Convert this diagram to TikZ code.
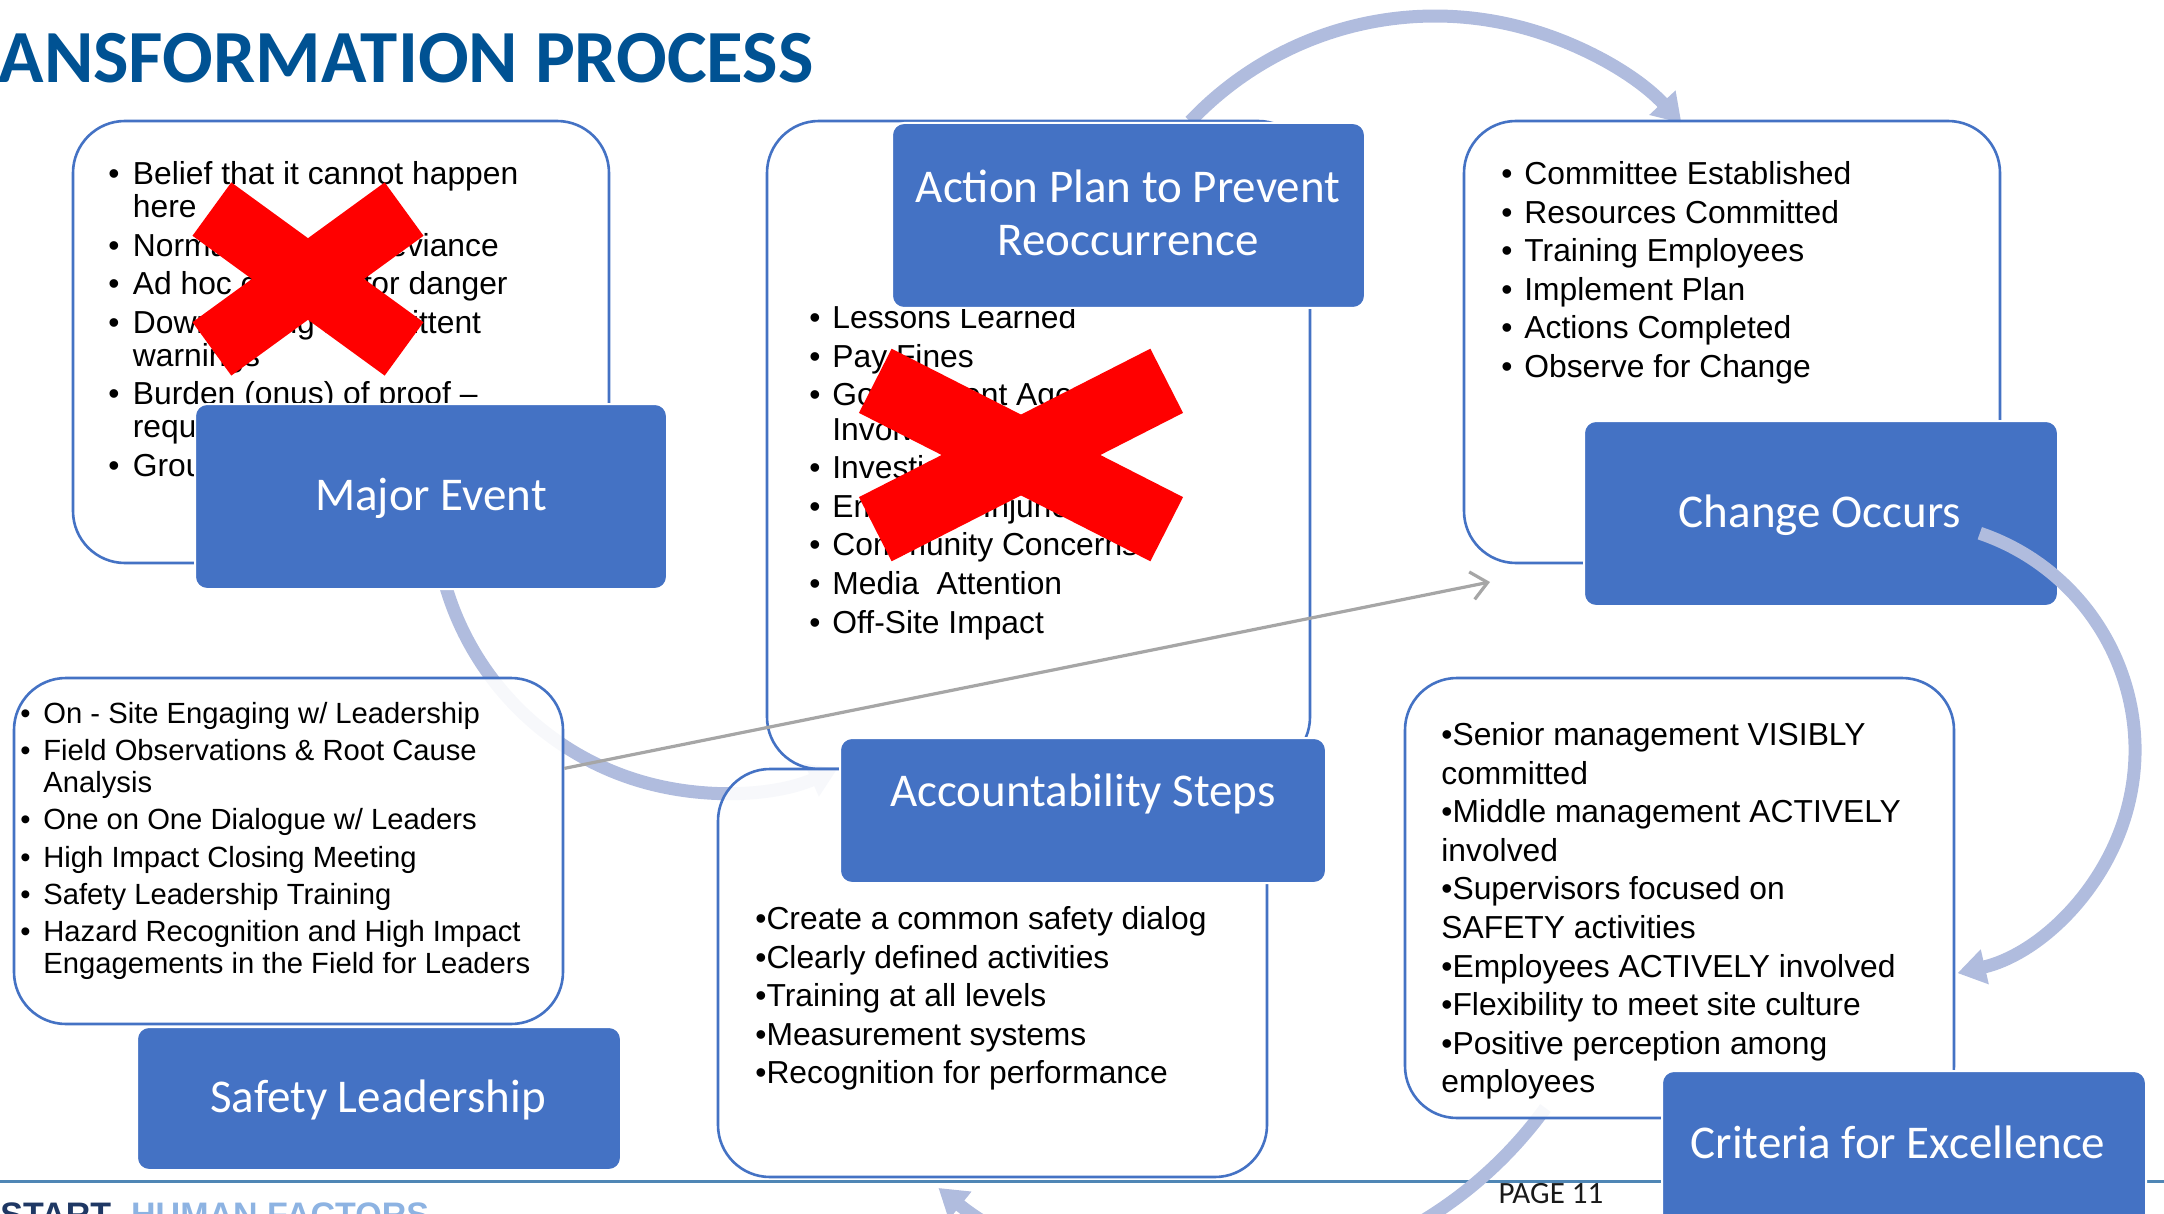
\documentclass[tikz,border=0pt]{standalone}
\usepackage{fontspec}
\setmainfont{Liberation Sans}
\newfontfamily\calfont{Carlito}
\usetikzlibrary{arrows.meta,calc}

\definecolor{accent}{RGB}{68,114,196}
\definecolor{arcblue}{RGB}{176,188,222}
\definecolor{titleblue}{RGB}{0,82,147}
\definecolor{footblue}{RGB}{79,134,181}
\definecolor{logonavy}{RGB}{31,56,100}
\definecolor{logolight}{RGB}{141,179,226}
\definecolor{pointergray}{RGB}{166,166,166}

% bullet set in a box of the given width
\newcommand\bitem[1]{\makebox[#1][l]{•}}

\begin{document}
\begin{tikzpicture}[x=0.5pt,y=-0.5pt,
  outline/.style={draw=accent, line width=1.3pt, fill=white, fill opacity=0.9,
    rounded corners=26pt, inner sep=0pt},
  head/.style={fill=accent, draw=white, line width=1pt, rounded corners=6pt, inner sep=0pt},
  headtext/.style={text=white, font=\calfont\fontsize{23.5pt}{28pt}\selectfont,
    anchor=base, inner sep=0pt},
  body/.style={anchor=north west, align=left, inner sep=0pt, text=black},
  cyclearc/.style={draw=arcblue, line width=6.5pt, -{Triangle[length=14pt,width=17pt]}},
  cross/.style={draw=red, line width=#1, line cap=butt},
  pointer/.style={draw=pointergray, line width=1.6pt, -{Straight Barb[length=8pt,width=14pt]}},
  footrule/.style={draw=footblue, line width=1.5pt}
]
\useasboundingbox (0,0) rectangle (2164,1214);
\clip (0,0) rectangle (2164,1214);

% footer rule, logo and title
\draw[footrule] (0,1181) -- (2164,1181);
\node[anchor=base west, inner sep=0pt, font=\bfseries\fontsize{17pt}{20pt}\selectfont] (logo) at (0,1226)
  {\textcolor{logonavy}{START}\hspace{10pt}\textcolor{logolight}{HUMAN FACTORS}};
\node[anchor=base east, inner sep=0pt, text=titleblue,
  font=\calfont\bfseries\fontsize{37.5pt}{40pt}\selectfont] (title) at (814,83) {ANSFORMATION PROCESS};

% cycle arcs that run behind the boxes
\coordinate (arcTop) at (1435,353);
\coordinate (arcLeft) at (722,505);
\coordinate (arcBottom) at (1204,860);
\draw[cyclearc] (arcTop) ++(223.4:337) arc[start angle=223.4, end angle=317, radius=337];
\draw[cyclearc] (arcLeft) ++(165:288) arc[start angle=165, end angle=66.4, radius=288];
\draw[cyclearc] (arcBottom) ++(36:422) arc[start angle=36, end angle=129, radius=422];

% outlined text panels
\node[outline, minimum width=268pt, minimum height=221pt] (boxA) at (341,342) {};
\node[outline, minimum width=271.5pt, minimum height=324pt] (boxB) at (1038.5,445) {};
\node[outline, minimum width=268pt, minimum height=221pt] (boxC) at (1732,342) {};
\node[outline, minimum width=274.5pt, minimum height=173pt] (boxD) at (288.5,851) {};
\node[outline, minimum width=274.5pt, minimum height=204pt] (boxE) at (992.5,973) {};
\node[outline, minimum width=274.5pt, minimum height=220pt] (boxF) at (1679.5,898) {};

% panel texts
\node[body, font=\fontsize{15.9pt}{16.5pt}\selectfont] (textA) at (108,161)
  {\bitem{12.25pt}Belief that it cannot happen\\
   \hspace*{12.25pt}here\\[2.8pt]
   \bitem{12.25pt}Normalization of deviance\\[2.8pt]
   \bitem{12.25pt}Ad hoc concern for danger\\[2.8pt]
   \bitem{12.25pt}Downplaying intermittent\\
   \hspace*{12.25pt}warnings\\[2.8pt]
   \bitem{12.25pt}Burden (onus) of proof –\\
   \hspace*{12.25pt}required\\[2.8pt]
   \bitem{12.25pt}Groupthink};

\node[body, font=\fontsize{15.9pt}{17.25pt}\selectfont] (textB) at (809,305)
  {\bitem{11.5pt}Lessons Learned\\[2.05pt]
   \bitem{11.5pt}Pay Fines\\[2.05pt]
   \bitem{11.5pt}Government Agency\\
   \hspace*{11.5pt}Involvement\\[2.05pt]
   \bitem{11.5pt}Investigation\\[2.05pt]
   \bitem{11.5pt}Employee Injuries\\[2.05pt]
   \bitem{11.5pt}Community Concerns\\[2.05pt]
   \bitem{11.5pt}Media\ \ Attention\\[2.05pt]
   \bitem{11.5pt}Off-Site Impact};

\node[body, font=\fontsize{15.9pt}{19.3pt}\selectfont] (textC) at (1501,161)
  {\bitem{11.5pt}Committee Established\\
   \bitem{11.5pt}Resources Committed\\
   \bitem{11.5pt}Training Employees\\
   \bitem{11.5pt}Implement Plan\\
   \bitem{11.5pt}Actions Completed\\
   \bitem{11.5pt}Observe for Change};

\node[body, font=\fontsize{14.6pt}{15.85pt}\selectfont] (textD) at (20,702)
  {\bitem{11.5pt}On - Site Engaging w/ Leadership\\[2.8pt]
   \bitem{11.5pt}Field Observations \& Root Cause\\
   \hspace*{11.5pt}Analysis\\[2.8pt]
   \bitem{11.5pt}One on One Dialogue w/ Leaders\\[2.8pt]
   \bitem{11.5pt}High Impact Closing Meeting\\[2.8pt]
   \bitem{11.5pt}Safety Leadership Training\\[2.8pt]
   \bitem{11.5pt}Hazard Recognition and High Impact\\
   \hspace*{11.5pt}Engagements in the Field for Leaders};

\node[body, font=\fontsize{15.9pt}{19.3pt}\selectfont] (textE) at (755,906)
  {•Create a common safety dialog\\
   •Clearly defined activities\\
   •Training at all levels\\
   •Measurement systems\\
   •Recognition for performance};

\node[body, font=\fontsize{15.9pt}{19.3pt}\selectfont] (textF) at (1441,722)
  {•Senior management VISIBLY\\
   committed\\
   •Middle management ACTIVELY\\
   involved\\
   •Supervisors focused on\\
   SAFETY activities\\
   •Employees ACTIVELY involved\\
   •Flexibility to meet site culture\\
   •Positive perception among\\
   employees};

% red crosses over the rejected lists
\draw[cross=33pt] (211.9,209.1) -- (404.1,348.9);
\draw[cross=33pt] (211.9,348.9) -- (404.1,209.1);
\draw[cross=36pt] (875.3,380.8) -- (1166.7,529.2);
\draw[cross=36pt] (875.3,529.2) -- (1166.7,380.8);

% solid step headers
\node[head, minimum width=236pt, minimum height=92.5pt] (major) at (431,496.5) {};
\node[headtext] (majorT) at (431,510) {Major Event};
\node[head, minimum width=236.5pt, minimum height=92.5pt] (plan) at (1128.5,215.5) {};
\node[headtext] (planT1) at (1128,203) {Action Plan to Prevent};
\node[headtext] (planT2) at (1128,256) {Reoccurrence};
\node[head, minimum width=237pt, minimum height=92.5pt] (change) at (1821,513.5) {};
\node[headtext] (changeT) at (1820,527) {Change Occurs};
\node[head, minimum width=242pt, minimum height=71.5pt] (safety) at (379,1098.5) {};
\node[headtext] (safetyT) at (378,1112) {Safety Leadership};
\node[head, minimum width=243pt, minimum height=72.5pt] (account) at (1083,810.5) {};
\node[headtext] (accountT) at (1083,806) {Accountability Steps};
\node[head, minimum width=242pt, minimum height=92.5pt] (criteria) at (1904,1163.5) {};
\node[headtext] (criteriaT) at (1898,1158) {Criteria for Excellence};

% arc from the change step down to the criteria panel
\coordinate (arcRight) at (1906,750);
\draw[cyclearc] (arcRight) ++(-71.2:229) arc[start angle=-71.2, end angle=77, radius=229];

% grey pointer from the leadership panel
\coordinate (ptrEnd) at (1490,582);
\draw[pointer] ($(boxD.north east)!0.263!(boxD.south east)$) -- (ptrEnd);

% page number
\node[anchor=base, inner sep=0pt, text=black!90, font=\calfont\fontsize{15.5pt}{18pt}\selectfont]
  (pagenum) at (1551,1203) {PAGE 11};
\end{tikzpicture}
\end{document}
